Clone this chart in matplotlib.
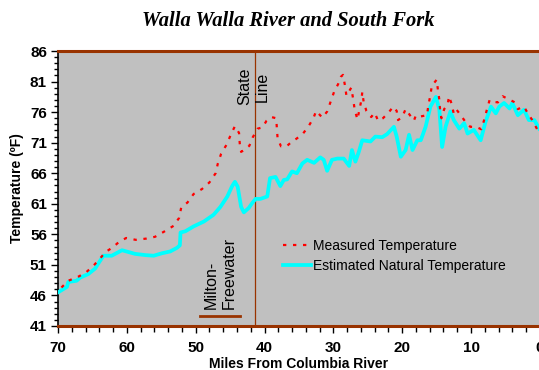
import matplotlib
matplotlib.use("Agg")
import matplotlib.pyplot as plt
from matplotlib.ticker import MultipleLocator

plt.rcParams['font.family'] = ['Liberation Sans', 'DejaVu Sans']

# Measured temperature (red dotted), miles from Columbia River vs deg F
measured_mi = [69.5, 68.5, 67.0, 66.0, 64.9, 64.0, 63.1, 62.0, 61.2, 60.1,
               58.7, 57.2, 55.9, 54.5, 53.2, 52.4, 52.1, 51.2, 50.3, 49.1,
               48.0, 47.1, 46.8, 46.3, 45.5, 44.9, 44.3, 43.7, 43.6, 43.4,
               42.8, 42.2, 41.7, 41.0, 40.3, 39.7, 39.0, 38.3, 38.2, 38.1,
               37.6, 36.8, 36.2, 35.3, 34.4, 33.6, 32.9, 32.5, 31.6, 30.9,
               30.4, 29.9, 29.3, 28.9, 28.6, 28.3, 28.1, 27.4, 27.1, 26.9,
               26.5, 26.2, 25.9, 25.8, 25.6, 25.2, 24.5, 24.0, 23.5, 22.8,
               22.0, 21.3, 20.8, 20.6, 20.0, 19.5, 19.0, 18.3, 18.0, 17.3,
               16.4, 16.2, 15.9, 15.7, 15.0, 14.8, 14.6, 14.5, 14.3, 13.9,
               13.4, 13.2, 12.8, 12.5, 12.1, 11.5, 10.8, 10.1, 9.3, 8.5,
               8.1, 7.7, 7.3, 6.8, 6.1, 5.4, 4.5, 3.8, 3.2, 2.3,
               1.7, 1.1, 0.3]
measured_temp = [47.3, 48.4, 49.1, 49.7, 50.8, 51.9, 53.1, 53.9, 54.7, 55.4,
                 55.1, 55.3, 55.6, 56.5, 57.4, 58.7, 60.4, 61.2, 62.6, 63.4,
                 64.5, 66.0, 67.5, 69.2, 70.7, 72.3, 73.7, 72.6, 70.9, 69.5,
                 69.9, 70.5, 71.9, 73.3, 73.5, 74.6, 75.2, 75.0, 73.3, 71.7,
                 70.4, 70.4, 71.0, 71.7, 72.5, 73.7, 75.0, 76.2, 75.1, 76.1,
                 77.7, 79.3, 80.6, 81.8, 82.1, 80.3, 78.7, 80.0, 78.0, 76.4,
                 74.8, 76.5, 78.1, 79.3, 77.7, 76.2, 75.2, 75.9, 74.6, 75.0,
                 75.9, 76.9, 76.2, 74.7, 75.2, 76.5, 75.7, 74.6, 75.5, 75.3,
                 75.5, 77.1, 78.8, 80.3, 81.3, 79.6, 78.0, 76.4, 75.0, 76.5,
                 77.2, 78.6, 77.3, 75.7, 76.4, 75.5, 74.4, 73.6, 73.6, 73.2,
                 74.7, 76.4, 78.0, 77.7, 77.6, 78.6, 78.1, 77.7, 76.5, 76.9,
                 75.7, 74.7, 73.0]

# Estimated natural temperature (cyan)
natural_mi = [70.0, 68.7, 68.5, 67.3, 66.8, 65.6, 64.6, 64.1, 63.4, 62.2,
              60.7, 58.8, 57.3, 56.1, 54.9, 53.7, 52.7, 52.3, 52.2, 51.5,
              50.3, 48.8, 47.4, 46.4, 45.4, 44.7, 44.3, 43.9, 43.4, 43.0,
              42.3, 41.8, 41.3, 40.6, 39.6, 39.2, 38.4, 37.7, 37.2, 36.7,
              36.0, 35.3, 34.5, 33.8, 32.8, 31.9, 31.4, 30.9, 30.2, 29.4,
              28.5, 27.7, 27.3, 26.8, 26.3, 25.8, 24.6, 23.9, 22.9, 22.2,
              21.2, 20.8, 20.2, 19.5, 19.0, 18.5, 17.8, 17.3, 16.6, 15.9,
              15.1, 14.6, 14.2, 13.7, 13.0, 12.5, 11.7, 11.0, 10.5, 9.6,
              8.6, 7.9, 7.1, 6.4, 5.9, 5.2, 4.4, 4.0, 3.2, 2.3,
              1.6, 0.8, 0.1]
natural_temp = [46.5, 47.4, 48.2, 48.4, 48.9, 49.5, 50.4, 51.3, 52.5, 52.5,
                53.4, 52.8, 52.6, 52.5, 52.9, 53.2, 53.8, 54.2, 56.3, 56.5,
                57.3, 58.1, 59.2, 60.5, 62.2, 63.9, 64.6, 63.8, 60.5, 59.6,
                60.3, 61.1, 61.8, 61.8, 62.2, 65.2, 65.4, 63.9, 64.9, 65.0,
                66.3, 66.0, 67.6, 68.2, 67.7, 68.6, 68.2, 66.4, 68.2, 68.4,
                68.4, 67.2, 69.8, 67.9, 69.5, 71.4, 71.2, 72.0, 71.9, 72.4,
                73.6, 72.0, 68.7, 69.8, 72.3, 69.8, 71.4, 71.4, 73.6, 76.9,
                78.5, 76.4, 70.3, 73.6, 76.1, 74.7, 73.3, 74.2, 72.5, 73.1,
                71.4, 74.4, 76.9, 75.8, 76.9, 77.5, 76.6, 77.5, 75.5, 76.4,
                74.7, 74.7, 73.3]

state_line_mi = 41.4
milton_span = [49.3, 43.5]
milton_level = 42.6

brown = '#993300'

fig = plt.figure(figsize=(5.39, 3.70), dpi=100)
ax = fig.add_axes([0.1076, 0.119, 0.894, 0.743])
ax.set_facecolor('#c0c0c0')

ax.plot(natural_mi, natural_temp, color='cyan', lw=2.7,
        label='Estimated Natural Temperature', zorder=3)
ax.plot(measured_mi, measured_temp, color='red', lw=1.6, ls=(0, (1.5, 3)),
        label='Measured Temperature', zorder=4)

ax.axvline(state_line_mi, color=brown, lw=0.9, zorder=2)
ax.plot(milton_span, [milton_level] * 2, color=brown, lw=2, zorder=2)

ax.text(42.8, 77.2, 'State', rotation=90, ha='center', va='bottom', fontsize=11.5)
ax.text(40.3, 77.6, 'Line', rotation=90, ha='center', va='bottom', fontsize=11.5)
ax.text(47.7, 43.7, 'Milton-', rotation=90, ha='center', va='bottom', fontsize=11.5)
ax.text(45.1, 43.7, 'Freewater', rotation=90, ha='center', va='bottom', fontsize=11.5)

ax.set_xlim(70, 0)
ax.set_ylim(41, 86)
ax.xaxis.set_major_locator(MultipleLocator(10))
ax.xaxis.set_minor_locator(MultipleLocator(2))
ax.yaxis.set_minor_locator(MultipleLocator(1))
ax.set_yticks(range(41, 87, 5))
ax.tick_params(axis='both', which='major', direction='out', length=5,
               width=1, labelsize=11, color='black', pad=3)
ax.tick_params(axis='both', which='minor', direction='out', length=3,
               width=1, color='black')
ax.tick_params(axis='x', which='minor', length=4)
ax.tick_params(axis='x', which='major', pad=6)
for lab in ax.get_xticklabels() + ax.get_yticklabels():
    lab.set_fontweight('bold')

ax.spines['right'].set_visible(False)
ax.spines['left'].set_color('black')
ax.spines['left'].set_linewidth(1.2)
ax.spines['top'].set_color(brown)
ax.spines['top'].set_linewidth(2.2)
ax.spines['bottom'].set_color(brown)
ax.spines['bottom'].set_linewidth(2.2)

ax.set_xlabel('Miles From Columbia River', fontsize=10, fontweight='bold',
              labelpad=1)
ax.set_ylabel('Temperature (ºF)', fontsize=10, fontweight='bold')

handles, labels = ax.get_legend_handles_labels()
leg = ax.legend(handles[::-1], labels[::-1], loc='upper left',
                bbox_to_anchor=(0.455, 0.337), frameon=False, fontsize=10,
                handlelength=2, handletextpad=0.15, labelspacing=0.45,
                borderaxespad=0)

fig.text(0.534, 0.943, 'Walla Walla River and South Fork', ha='center',
         va='center', fontsize=14.8, fontweight='bold', fontstyle='italic',
         family='Liberation Serif')

fig.savefig('out.png', dpi=100)
